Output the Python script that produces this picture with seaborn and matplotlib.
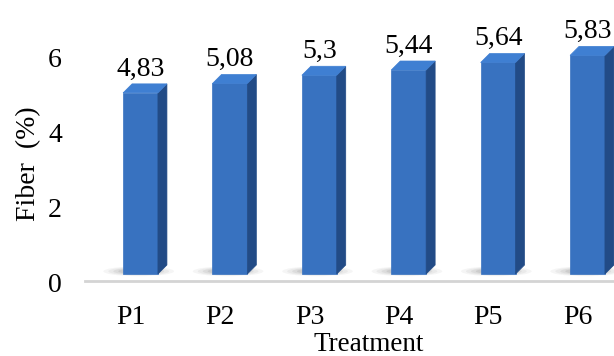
import matplotlib
matplotlib.use("Agg")
import matplotlib.pyplot as plt
from matplotlib.patches import Polygon, Ellipse
from matplotlib.transforms import ScaledTranslation
import seaborn as sns
import pandas as pd

# Fiber content per treatment
treatments = ["P1", "P2", "P3", "P4", "P5", "P6"]
fiber = [4.83, 5.08, 5.3, 5.44, 5.64, 5.83]
y_ticks = [0, 2, 4, 6]

df = pd.DataFrame({"Treatment": treatments, "Fiber": fiber})

sns.set_theme(style="white")
plt.rcParams["font.family"] = ["Liberation Serif", "DejaVu Serif"]
FS = 20

W, H, DPI = 614, 356, 100
fig = plt.figure(figsize=(W / DPI, H / DPI), dpi=DPI)

# axes box in pixels (left, floor line, right, top)
L, B, R, T = 85, 281, 614, 0
ax = fig.add_axes([L / W, (H - B) / H, (R - L) / W, (B - T) / H])

FRONT = "#3872c0"
SIDE = "#224b86"
TOP = "#3f7fd2"

sns.barplot(data=df, x="Treatment", y="Fiber", color=FRONT, saturation=1,
            width=0.39, ax=ax, zorder=3)

# pixel scales: 89.4 px per category, 37.5 px per unit, baseline 7 px above floor
px_x, px_y = 89.4, 37.5
x0_px = 140.5 - L
ax.set_xlim(-x0_px / px_x, (R - L - x0_px) / px_x)
ax.set_ylim(-7 / px_y, (B - T - 7) / px_y)

ddx, ddy = 9 / px_x, 9 / px_y
for p in list(ax.patches):
    x0, w, h = p.get_x(), p.get_width(), p.get_height()
    p.set_edgecolor(FRONT)
    p.set_linewidth(0.5)
    # soft floor shadow, stronger on the left of the base
    for k, a in zip(range(5), [0.05, 0.06, 0.08, 0.10, 0.12]):
        s = 1 - k * 0.14
        ax.add_patch(Ellipse((x0 + w / 2 - 0.02, ddy * 0.3),
                             (w + 0.4) * s, 0.26 * s,
                             facecolor="#444444", edgecolor="none",
                             alpha=a, zorder=2))
    side = Polygon([(x0 + w, 0), (x0 + w, h), (x0 + w + ddx, h + ddy),
                    (x0 + w + ddx, ddy)], closed=True,
                   facecolor=SIDE, edgecolor=SIDE, linewidth=0.5, zorder=3)
    top = Polygon([(x0, h), (x0 + w, h), (x0 + w + ddx, h + ddy),
                   (x0 + ddx, h + ddy)], closed=True,
                  facecolor=TOP, edgecolor=TOP, linewidth=0.5, zorder=3)
    ax.add_patch(side)
    ax.add_patch(top)

labels = [f"{v:g}".replace(".", ",") for v in fiber]
ax.bar_label(ax.containers[0], labels=labels, padding=8, fontsize=FS,
             color="black", zorder=5)

ax.set_yticks(y_ticks)
ax.set_yticklabels([str(t) for t in y_ticks])
ax.tick_params(axis="y", length=0, pad=16.5, labelsize=FS, labelcolor="black")
ax.tick_params(axis="x", length=0, pad=17, labelsize=FS, labelcolor="black")
for lab in ax.get_yticklabels():
    lab.set_transform(lab.get_transform() + ScaledTranslation(0, -6 / 72, fig.dpi_scale_trans))
for lab in ax.get_xticklabels():
    lab.set_transform(lab.get_transform() + ScaledTranslation(-7 / 72, 0, fig.dpi_scale_trans))

for s in ["left", "right", "top"]:
    ax.spines[s].set_visible(False)
ax.spines["bottom"].set_color("#d4d4d4")
ax.spines["bottom"].set_linewidth(2)

ax.set_xlabel("Treatment", fontsize=19.5, color="black")
ax.set_ylabel("Fiber  (%)", fontsize=FS, color="black")
ax.xaxis.set_label_coords((369 - L) / (R - L), -(344.5 - B) / (B - T))
ax.xaxis.label.set_va("center")
ax.yaxis.set_label_coords((29 - L) / (R - L), (B - 164) / (B - T))
ax.yaxis.label.set_va("center")

fig.savefig("out.png", dpi=DPI)
